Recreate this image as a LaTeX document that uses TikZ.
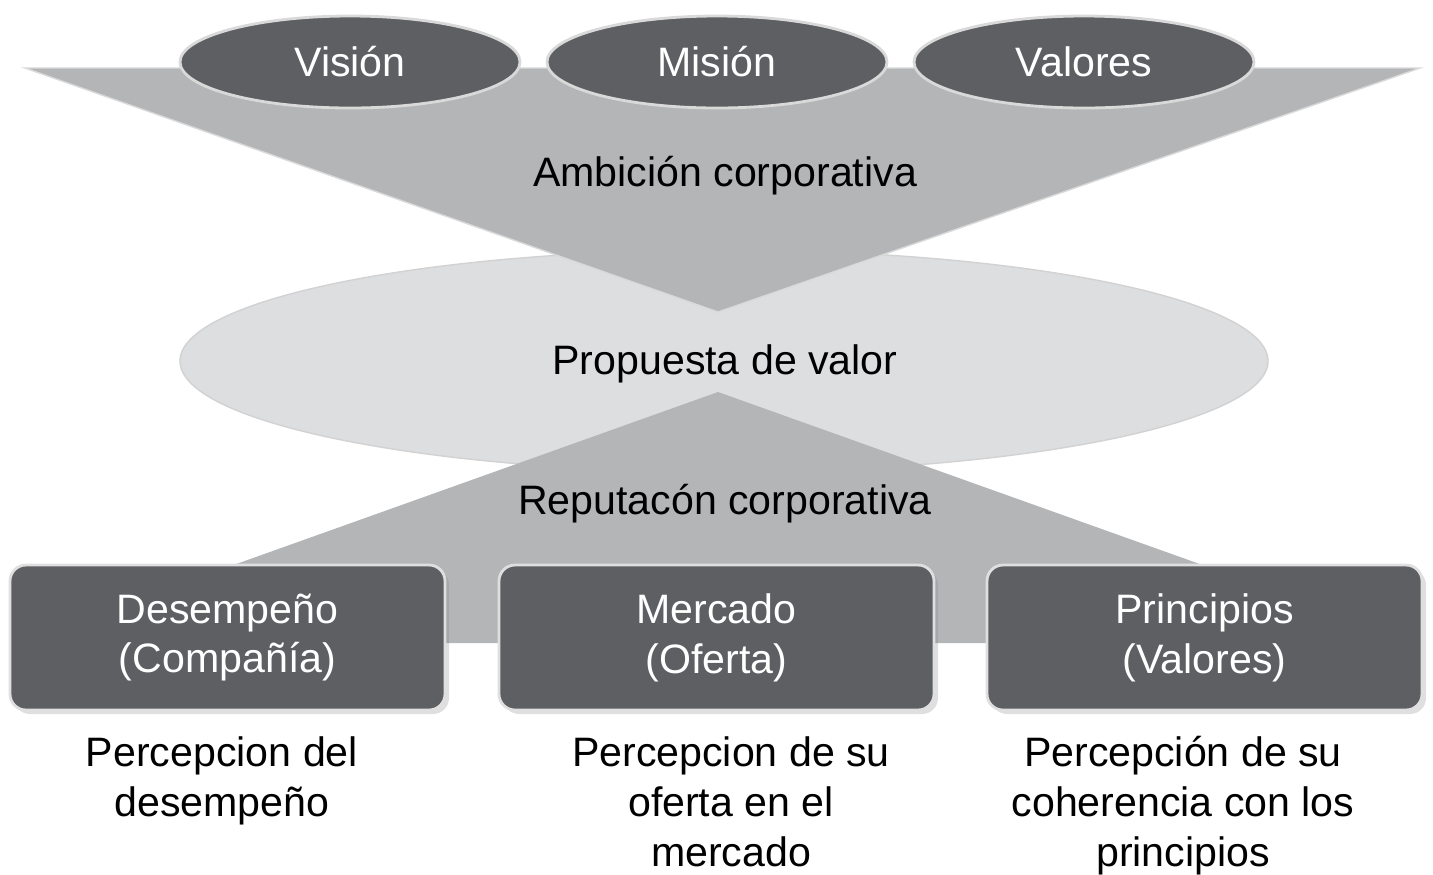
\documentclass[tikz,border=0pt]{standalone}
\usepackage{fontspec}
\setmainfont{Liberation Sans}
\usetikzlibrary{shapes.geometric,shadows}
\definecolor{darkfill}{HTML}{5E5F63}
\definecolor{midfill}{HTML}{B4B5B7}
\definecolor{lightfill}{HTML}{DDDEE0}

\begin{document}
\begin{tikzpicture}[font=\fontsize{11.7}{14.2}\selectfont,
	oval/.style={ellipse, fill=darkfill, draw=gray!30, line width=0.8pt, minimum width=3.4cm, minimum height=0.92cm, inner sep=0pt, text=white},
	tile/.style={rounded corners=0.16cm, fill=darkfill, draw=gray!25, line width=0.8pt, minimum width=4.35cm, minimum height=1.45cm, text=white, align=center, drop shadow={opacity=0.25, shadow xshift=0.04cm, shadow yshift=-0.04cm}},
	caption/.style={align=center}]
		\useasboundingbox (0,0) rectangle (14.33,-8.74);
		
		% valor ellipse behind both triangles
		\node[ellipse, fill=lightfill, draw=gray!35, minimum width=10.88cm, minimum height=2.22cm] (valor) at (7.24,-3.61) {};
		
		\fill[midfill, draw=gray!30] (0.25,-0.68) -- (14.2,-0.68) -- (7.18,-3.12) -- cycle;
		\fill[midfill] (0.15,-6.43) -- (14.21,-6.43) -- (7.18,-3.92) -- cycle;
		
		\node[oval] (vision) at (3.50,-0.62) {Visión};
		\node[oval] (mision) at (7.17,-0.62) {Misión};
		\node[oval] (valores) at (10.84,-0.62) {Valores};
		
		\node (ambicion) at (7.25,-1.76) {Ambición corporativa};
		\node (propuesta) at (7.25,-3.64) {Propuesta de valor};
		\node (reputacion) at (7.25,-5.04) {Reputacón corporativa};
		
		\node[tile] (desempeno) at (2.275,-6.375) {Desempeño\\(Compañía)};
		\node[tile] (mercado) at (7.165,-6.375) {Mercado\\(Oferta)};
		\node[tile] (principios) at (12.045,-6.375) {Principios\\(Valores)};
		
		\node[caption] (capdes) at (2.22,-7.81) {Percepcion del\\desempeño};
		\node[caption] (capmer) at (7.31,-8.02) {Percepcion de su\\oferta en el\\mercado};
		\node[caption] (capprin) at (11.83,-8.06) {Percepción de su\\coherencia con los\\principios};
	\end{tikzpicture}
\end{document}
